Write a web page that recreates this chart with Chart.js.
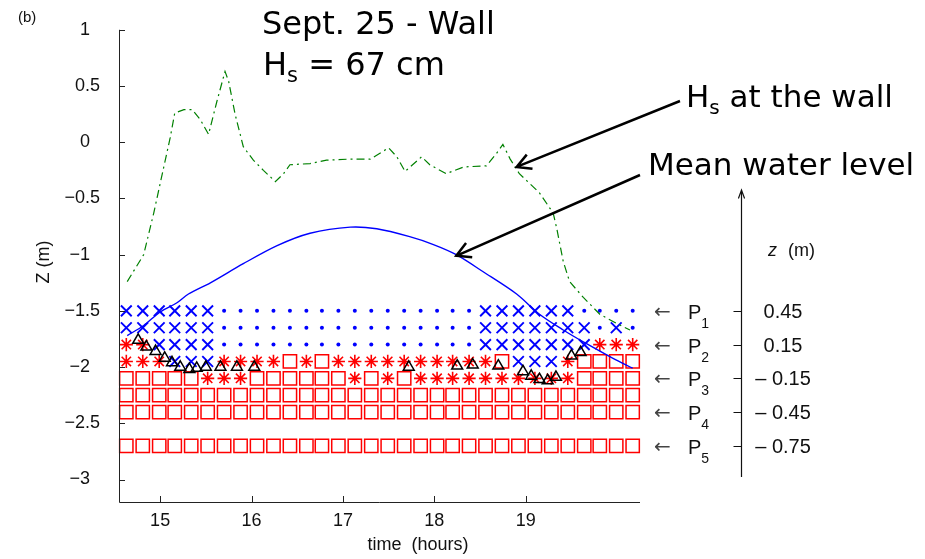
<!DOCTYPE html>
<html>
<head>
<meta charset="utf-8">
<script src="https://cdn.jsdelivr.net/npm/chart.js@4.4.1/dist/chart.umd.min.js"></script>
<style>
  html, body { margin: 0; padding: 0; background: #fff; }
  canvas { display: block; }
</style>
</head>
<body>
<canvas id="chart" width="925" height="559"></canvas>
<script>
// burst times (hours) of the sensor grid
const times = [14.63, 14.81, 14.99, 15.16, 15.34, 15.52, 15.70, 15.88, 16.06, 16.24, 16.42,
  16.60, 16.77, 16.95, 17.13, 17.31, 17.49, 17.67, 17.85, 18.03, 18.20, 18.38, 18.56, 18.74,
  18.92, 19.10, 19.28, 19.46, 19.64, 19.81, 19.99, 20.17];
// sensor rows (Z, m)
const depths = [-1.5, -1.65, -1.8, -1.95, -2.1, -2.25, -2.4, -2.7];
// state per row and burst:  x = cross, . = dot, * = star, s = square
const states = [
  'xxxxxx................xxxxxx....',
  'xxxxxx................xxxxxxx.x.',
  '**xxxx................xxxxxxx***',
  '***xxx****s*s**********sxxx*ssss',
  'sssss***ssssss*s*s**********ssss',
  'ssssssssssssssssssssssssssssssss',
  'ssssssssssssssssssssssssssssssss',
  'ssssssssssssssssssssssssssssssss'
];

// triangles
const triTimes = [14.76, 14.85, 14.95, 15.05, 15.13, 15.22, 15.32, 15.40, 15.50, 15.66, 15.84,
  16.03, 17.72, 18.25, 18.42, 18.70, 18.97, 19.06, 19.15, 19.24, 19.33, 19.50, 19.60];
const triZ = [-1.76, -1.82, -1.86, -1.92, -1.96, -2.00, -2.02, -2.01, -2.00, -2.00, -2.00,
  -2.00, -2.00, -1.99, -1.98, -1.99, -2.04, -2.08, -2.11, -2.12, -2.09, -1.90, -1.87];

// mean water level
const mwlTimes = [14.64, 14.82, 15.00, 15.18, 15.31, 15.55, 15.91, 16.28, 16.64, 17.08, 17.37,
  17.73, 17.99, 18.24, 18.53, 18.90, 19.15, 19.41, 19.66, 19.95, 20.17];
const mwlZ = [-1.72, -1.63, -1.51, -1.43, -1.35, -1.25, -1.08, -0.92, -0.81, -0.755, -0.77,
  -0.84, -0.91, -1.00, -1.15, -1.35, -1.53, -1.67, -1.79, -1.92, -2.01];

// Hs at the wall
const hsTimes = [14.64, 14.82, 14.93, 15.04, 15.11, 15.16, 15.26, 15.35, 15.44, 15.53, 15.62,
  15.71, 15.75, 15.82, 15.91, 16.02, 16.13, 16.26, 16.35, 16.42, 16.64, 16.82, 17.08, 17.30,
  17.50, 17.59, 17.68, 17.86, 17.95, 18.13, 18.32, 18.57, 18.68, 18.75, 18.83, 18.93, 19.15,
  19.30, 19.34, 19.41, 19.48, 19.63, 19.81, 19.99, 20.14];
const hsZ = [-1.24, -1.00, -0.63, -0.22, 0.04, 0.26, 0.29, 0.29, 0.20, 0.07, 0.36,
  0.63, 0.54, 0.25, -0.04, -0.16, -0.25, -0.35, -0.28, -0.20, -0.19, -0.16, -0.15, -0.15,
  -0.05, -0.13, -0.26, -0.13, -0.20, -0.28, -0.22, -0.21, -0.10, -0.02, -0.15, -0.28, -0.45,
  -0.63, -0.77, -1.06, -1.24, -1.38, -1.53, -1.61, -1.67];

const xTicks = [15, 16, 17, 18, 19];
const yTicks = [-3, -2.5, -2, -1.5, -1, -0.5, 0, 0.5, 1];

// right hand z axis (sensor elevations)
const sensorNames = ['1', '2', '3', '4', '5'];
const sensorZ = [0.45, 0.15, -0.15, -0.45, -0.75];
const zOffset = 1.95; // z = Z + zOffset

const pts = (xs, ys) => xs.map((x, i) => ({ x, y: ys[i] }));

function gridPoints(code) {
  const out = [];
  states.forEach((row, r) => {
    for (let i = 0; i < row.length; i++) {
      if (row[i] === code) out.push({ x: times[i], y: depths[r] });
    }
  });
  return out;
}

const BLUE = '#0000ff', RED = '#ff0000', GREEN = '#008000';

const marker = (code, style, radius, color, width, order) => ({
  data: gridPoints(code), showLine: false, pointStyle: style, pointRadius: radius,
  pointBorderColor: color, pointBackgroundColor: style === 'circle' ? color : 'rgba(0,0,0,0)',
  pointBorderWidth: width, clip: false, order, xAxisID: 'x', yAxisID: 'y'
});

const datasets = [
  { data: pts(hsTimes, hsZ), showLine: true, pointRadius: 0, borderColor: GREEN,
    borderWidth: 1.2, borderDash: [8, 4, 2, 4], order: 1, clip: false, xAxisID: 'x', yAxisID: 'y' },
  { data: pts(mwlTimes, mwlZ), showLine: true, pointRadius: 0, borderColor: BLUE,
    borderWidth: 1.4, tension: 0.3, order: 1, clip: false, xAxisID: 'x', yAxisID: 'y' },
  { data: pts(triTimes, triZ), showLine: false, pointStyle: 'triangle', pointRadius: 6.3,
    pointBorderColor: '#000', pointBackgroundColor: 'rgba(0,0,0,0)', pointBorderWidth: 1.5,
    order: 2, clip: false, xAxisID: 'x', yAxisID: 'y' },
  marker('x', 'crossRot', 7.6, BLUE, 1.9, 3),
  marker('.', 'circle', 2, BLUE, 0, 3),
  marker('*', 'star', 6.6, RED, 1.6, 3),
  marker('s', 'rect', 9.4, RED, 1.5, 3)
];

function subText(ctx, x, y, base, sub, rest, family, size, subSize, drop) {
  ctx.font = size + 'px ' + family;
  ctx.fillText(base, x, y);
  x += ctx.measureText(base).width;
  ctx.font = subSize + 'px ' + family;
  ctx.fillText(sub, x, y + drop);
  x += ctx.measureText(sub).width;
  if (rest) {
    ctx.font = size + 'px ' + family;
    ctx.fillText(rest, x, y);
  }
}

function arrow(ctx, x0, y0, x1, y1, head, spread, width) {
  const a = Math.atan2(y1 - y0, x1 - x0);
  ctx.lineWidth = width;
  ctx.beginPath();
  ctx.moveTo(x0, y0);
  ctx.lineTo(x1, y1);
  ctx.moveTo(x1 - head * Math.cos(a - spread), y1 - head * Math.sin(a - spread));
  ctx.lineTo(x1, y1);
  ctx.lineTo(x1 - head * Math.cos(a + spread), y1 - head * Math.sin(a + spread));
  ctx.stroke();
}

const annot = {
  id: 'annot',
  afterDraw(chart) {
    const { ctx, chartArea: a } = chart;
    const xs = chart.scales.x, ys = chart.scales.y, zs = chart.scales.z;
    ctx.save();
    ctx.strokeStyle = '#222';
    ctx.lineWidth = 1;
    // axis lines
    ctx.beginPath();
    ctx.moveTo(a.left + 0.5, a.top);
    ctx.lineTo(a.left + 0.5, a.bottom + 0.5);
    ctx.lineTo(a.right, a.bottom + 0.5);
    // inward ticks
    yTicks.forEach(v => {
      const py = Math.round(ys.getPixelForValue(v)) + 0.5;
      ctx.moveTo(a.left, py); ctx.lineTo(a.left + 6, py);
    });
    xTicks.forEach(v => {
      const px = Math.round(xs.getPixelForValue(v)) + 0.5;
      ctx.moveTo(px, a.bottom); ctx.lineTo(px, a.bottom - 6);
    });
    ctx.stroke();

    ctx.fillStyle = '#111';
    ctx.textBaseline = 'alphabetic';
    // panel letter and axis titles
    ctx.font = '15px "Liberation Sans"';
    ctx.textAlign = 'left';
    ctx.fillText('(b)', 18, 22);
    ctx.font = '18px "Liberation Sans"';
    ctx.textAlign = 'center';
    ctx.fillText('time  (hours)', 418, 550);
    ctx.save();
    ctx.translate(49, 262);
    ctx.rotate(-Math.PI / 2);
    ctx.fillText('Z (m)', 0, 0);
    ctx.restore();

    // title block
    ctx.fillStyle = '#000';
    ctx.textAlign = 'left';
    ctx.font = '32px "DejaVu Sans"';
    ctx.fillText('Sept. 25 - Wall', 262, 34);
    subText(ctx, 263, 75, 'H', 's', ' = 67 cm', '"DejaVu Sans"', 32, 21, 7);

    // callouts
    subText(ctx, 686, 107, 'H', 's', ' at the wall', '"DejaVu Sans"', 31, 20, 7);
    ctx.font = '31px "DejaVu Sans"';
    ctx.fillText('Mean water level', 648, 175);
    ctx.strokeStyle = '#000';
    arrow(ctx, 680, 101, xs.getPixelForValue(18.9), ys.getPixelForValue(-0.22), 16, 0.5, 2.5);
    arrow(ctx, 640, 175, xs.getPixelForValue(18.24), ys.getPixelForValue(-1.01), 16, 0.5, 2.5);

    // right-hand z axis
    const zx = 741.5;
    ctx.strokeStyle = '#111';
    arrow(ctx, zx, 477, zx, 190, 9, 0.35, 1.2);
    ctx.lineWidth = 1;
    ctx.beginPath();
    sensorZ.forEach(v => {
      const py = Math.round(zs.getPixelForValue(v)) + 0.5;
      ctx.moveTo(zx - 8, py); ctx.lineTo(zx, py);
    });
    ctx.stroke();
    ctx.fillStyle = '#111';
    ctx.font = 'italic 18px "Liberation Sans"';
    ctx.fillText('z', 768, 256);
    ctx.font = '18px "Liberation Sans"';
    ctx.fillText('(m)', 788, 256);
    sensorZ.forEach((v, i) => {
      const py = zs.getPixelForValue(v);
      ctx.textAlign = 'center';
      ctx.font = '20px "Liberation Sans"';
      ctx.fillText(v < 0 ? '\u2013 ' + Math.abs(v).toFixed(2) : v.toFixed(2), 783, py + 7);
      ctx.textAlign = 'left';
      ctx.fillStyle = '#444';
      ctx.font = '20px "DejaVu Sans"';
      ctx.fillText('\u2190', 654, py + 7);
      ctx.fillStyle = '#111';
      subText(ctx, 688, py + 8, 'P', sensorNames[i], '', '"Liberation Sans"', 20, 14, 9);
    });
    ctx.restore();
  }
};

new Chart(document.getElementById('chart'), {
  type: 'scatter',
  data: { datasets },
  options: {
    responsive: false,
    animation: false,
    devicePixelRatio: 1,
    layout: { padding: { top: 20, right: 285, left: 0, bottom: 0 } },
    plugins: { legend: { display: false }, tooltip: { enabled: false } },
    scales: {
      x: {
        type: 'linear', min: 14.55, max: 20.25,
        grid: { display: false, drawTicks: false }, border: { display: false },
        afterFit: s => { s.height = 57; },
        afterBuildTicks: s => { s.ticks = xTicks.map(v => ({ value: v })); },
        ticks: { padding: 8, color: '#111', maxRotation: 0, autoSkip: false,
          font: { family: 'Liberation Sans', size: 18 }, callback: v => String(v) }
      },
      y: {
        type: 'linear', min: -3.2, max: 1,
        grid: { display: false, drawTicks: false }, border: { display: false },
        afterFit: s => { s.width = 119; },
        afterBuildTicks: s => { s.ticks = yTicks.map(v => ({ value: v })); },
        ticks: { padding: 19, color: '#111', autoSkip: false,
          font: { family: 'Liberation Sans', size: 18 },
          callback: v => {
            const t = String(v).replace('-', '\u2212');
            return Number.isInteger(v) ? t + '  ' : t;
          } }
      },
      z: { type: 'linear', position: 'right', display: false,
        min: -3.2 + zOffset, max: 1 + zOffset }
    }
  },
  plugins: [annot]
});
</script>
</body>
</html>
